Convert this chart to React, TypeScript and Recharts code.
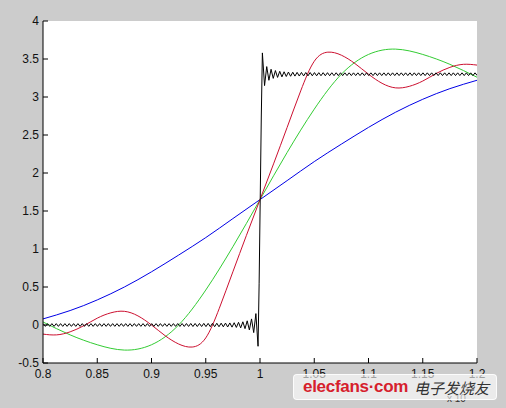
import { LineChart, Line, XAxis, YAxis } from "recharts";

// x positions of the smooth curves
const X_COARSE = [
  0.8, 0.825, 0.85, 0.875, 0.9, 0.925, 0.95, 0.975, 1.0,
  1.025, 1.05, 1.075, 1.1, 1.125, 1.15, 1.175, 1.2,
];
const X_FINE = [
  0.8, 0.8125, 0.825, 0.8375, 0.85, 0.8625, 0.875, 0.8875, 0.9, 0.9125, 0.925,
  0.9375, 0.95, 0.9625, 0.975, 0.9875, 1.0, 1.0125, 1.025, 1.0375, 1.05, 1.0625,
  1.075, 1.0875, 1.1, 1.1125, 1.125, 1.1375, 1.15, 1.1625, 1.175, 1.1875, 1.2,
];

const BLUE = [
  0.08, 0.19, 0.33, 0.5, 0.7, 0.92, 1.15, 1.4, 1.65,
  1.9, 2.15, 2.38, 2.6, 2.8, 2.97, 3.11, 3.22,
];
const GREEN = [
  0.04, -0.13, -0.26, -0.33, -0.26, 0.0, 0.46, 1.03, 1.65,
  2.27, 2.84, 3.3, 3.56, 3.63, 3.56, 3.43, 3.26,
];
const RED = [
  -0.12, -0.13, -0.09, -0.01, 0.09, 0.16, 0.18, 0.12, 0.0, -0.14, -0.25,
  -0.29, -0.17, 0.22, 0.7, 1.18, 1.65, 2.12, 2.6, 3.08, 3.47, 3.59,
  3.55, 3.44, 3.3, 3.18, 3.12, 3.14, 3.21, 3.31, 3.39, 3.43, 3.42,
];

// black curve: ringing read outward from the jump, one extreme every 0.002
const BLACK_DX = 0.002;
const BLACK_LEFT_START = 0.9982;
const BLACK_RIGHT_START = 1.0022;
const BLACK_LEFT = [
  -0.28, 0.15, -0.1, 0.08, -0.065, 0.055, -0.048, 0.042, -0.038, 0.035,
  -0.032, 0.03, -0.028, 0.027, -0.026, 0.025, -0.024, 0.024, -0.023, 0.023,
  -0.022, 0.022, -0.022, 0.021, -0.021, 0.021, -0.02, 0.02, -0.02, 0.02,
  -0.02, 0.02, -0.019, 0.019, -0.019, 0.019, -0.019, 0.019, -0.018, 0.018,
  -0.018, 0.018, -0.018, 0.018, -0.018, 0.018, -0.018, 0.018, -0.018, 0.018,
  -0.018, 0.018, -0.018, 0.018, -0.018, 0.018, -0.018, 0.018, -0.018, 0.018,
  -0.018, 0.018, -0.018, 0.018, -0.018, 0.018, -0.018, 0.018, -0.018, 0.018,
  -0.018, 0.018, -0.018, 0.018, -0.018, 0.018, -0.018, 0.018, -0.018, 0.018,
  -0.018, 0.018, -0.018, 0.018, -0.018, 0.018, -0.018, 0.018, -0.018, 0.018,
  -0.018, 0.018, -0.018, 0.018, -0.018, 0.018, -0.018, 0.018, -0.018, 0.018,
];
const BLACK_STEP_X = [0.9992, 1.0002, 1.0012];
const BLACK_STEP_Y = [0.55, 1.65, 2.75];
const BLACK_RIGHT = [
  3.58, 3.15, 3.4, 3.22, 3.365, 3.245, 3.348, 3.258, 3.338, 3.265,
  3.332, 3.27, 3.328, 3.273, 3.326, 3.275, 3.324, 3.276, 3.323, 3.277,
  3.322, 3.278, 3.322, 3.279, 3.321, 3.279, 3.32, 3.28, 3.32, 3.28,
  3.32, 3.28, 3.319, 3.281, 3.319, 3.281, 3.319, 3.281, 3.318, 3.282,
  3.318, 3.282, 3.318, 3.282, 3.318, 3.282, 3.318, 3.282, 3.318, 3.282,
  3.318, 3.282, 3.318, 3.282, 3.318, 3.282, 3.318, 3.282, 3.318, 3.282,
  3.318, 3.282, 3.318, 3.282, 3.318, 3.282, 3.318, 3.282, 3.318, 3.282,
  3.318, 3.282, 3.318, 3.282, 3.318, 3.282, 3.318, 3.282, 3.318, 3.282,
  3.318, 3.282, 3.318, 3.282, 3.318, 3.282, 3.318, 3.282, 3.318, 3.282,
  3.318, 3.282, 3.318, 3.282, 3.318, 3.282, 3.318, 3.282, 3.318, 3.282,
];

const X_TICKS = [0.8, 0.85, 0.9, 0.95, 1, 1.05, 1.1, 1.15, 1.2];
const X_TICK_LABELS = ["0.8", "0.85", "0.9", "0.95", "1", "1.05", "1.1", "1.15", "1.2"];
const Y_TICKS = [-0.5, 0, 0.5, 1, 1.5, 2, 2.5, 3, 3.5, 4];
const Y_TICK_LABELS = ["-0.5", "0", "0.5", "1", "1.5", "2", "2.5", "3", "3.5", "4"];

const FONT = "'Liberation Sans', Arial, sans-serif";
const TICK_LEN = 5;

const zip = (xs: number[], ys: number[]) => ys.map((y, i) => ({ x: xs[i], y }));

const blueData = zip(X_COARSE, BLUE);
const greenData = zip(X_COARSE, GREEN);
const redData = zip(X_FINE, RED);
const blackData = [
  ...BLACK_LEFT.map((y, i) => ({ x: BLACK_LEFT_START - i * BLACK_DX, y })).reverse(),
  ...zip(BLACK_STEP_X, BLACK_STEP_Y),
  ...BLACK_RIGHT.map((y, i) => ({ x: BLACK_RIGHT_START + i * BLACK_DX, y })),
];

const labelOf = (ticks: number[], labels: string[], v: number) => {
  const i = ticks.findIndex((t) => Math.abs(t - v) < 1e-9);
  return i >= 0 ? labels[i] : String(v);
};

// tick marks point inward, MATLAB style
function LeftTick(props: any) {
  const { x, y, payload } = props;
  const ax = x + 4;
  return (
    <g>
      <line x1={ax} x2={ax + TICK_LEN} y1={y} y2={y} stroke="#000" />
      <text x={x} y={y + 4} textAnchor="end" fontSize={12} fontFamily={FONT} fill="#111">
        {labelOf(Y_TICKS, Y_TICK_LABELS, payload.value)}
      </text>
    </g>
  );
}

function BottomTick(props: any) {
  const { x, y, payload } = props;
  const ay = y - 4;
  return (
    <g>
      <line x1={x} x2={x} y1={ay} y2={ay - TICK_LEN} stroke="#000" />
      <text x={x} y={ay + 15} textAnchor="middle" fontSize={12} fontFamily={FONT} fill="#111">
        {labelOf(X_TICKS, X_TICK_LABELS, payload.value)}
      </text>
    </g>
  );
}

function RightTick(props: any) {
  const { x, y } = props;
  return <line x1={x} x2={x - TICK_LEN} y1={y} y2={y} stroke="#000" />;
}

function TopTick(props: any) {
  const { x, y } = props;
  return <line x1={x} x2={x} y1={y} y2={y + TICK_LEN} stroke="#000" />;
}

export default function App() {
  return (
    <div
      style={{
        position: "absolute",
        left: 0,
        top: 0,
        width: 506,
        height: 408,
        background: "#cccccc",
        overflow: "hidden",
      }}
    >
      <LineChart
        width={506}
        height={408}
        margin={{ top: 21, right: 29, left: 0, bottom: 0 }}
        style={{ background: "transparent" }}
      >
        <rect x={43} y={21} width={434} height={342} fill="#ffffff" />
        <XAxis
          xAxisId="b"
          dataKey="x"
          type="number"
          domain={[0.8, 1.2]}
          ticks={X_TICKS}
          interval={0}
          allowDataOverflow
          height={45}
          tickSize={0}
          tickMargin={4}
          tickLine={false}
          axisLine={{ stroke: "#000" }}
          tick={<BottomTick />}
        />
        <XAxis
          xAxisId="t"
          orientation="top"
          dataKey="x"
          type="number"
          domain={[0.8, 1.2]}
          ticks={X_TICKS}
          interval={0}
          allowDataOverflow
          height={0}
          tickSize={0}
          tickMargin={0}
          tickLine={false}
          axisLine={{ stroke: "#000" }}
          tick={<TopTick />}
        />
        <YAxis
          yAxisId="l"
          type="number"
          domain={[-0.5, 4]}
          ticks={Y_TICKS}
          interval={0}
          allowDataOverflow
          width={43}
          tickSize={0}
          tickMargin={4}
          tickLine={false}
          axisLine={{ stroke: "#000" }}
          tick={<LeftTick />}
        />
        <YAxis
          yAxisId="r"
          orientation="right"
          type="number"
          domain={[-0.5, 4]}
          ticks={Y_TICKS}
          interval={0}
          allowDataOverflow
          width={0}
          tickSize={0}
          tickMargin={0}
          tickLine={false}
          axisLine={{ stroke: "#000" }}
          tick={<RightTick />}
        />
        <Line xAxisId="b" yAxisId="l" data={blueData} dataKey="y" type="natural" stroke="#0000e6" strokeWidth={1} dot={false} isAnimationActive={false} />
        <Line xAxisId="b" yAxisId="l" data={greenData} dataKey="y" type="natural" stroke="#33cc33" strokeWidth={1} dot={false} isAnimationActive={false} />
        <Line xAxisId="b" yAxisId="l" data={redData} dataKey="y" type="natural" stroke="#cc1030" strokeWidth={1} dot={false} isAnimationActive={false} />
        <Line xAxisId="b" yAxisId="l" data={blackData} dataKey="y" type="linear" stroke="#000000" strokeWidth={1} dot={false} isAnimationActive={false} />
      </LineChart>

      <div
        style={{
          position: "absolute",
          left: 447,
          top: 393,
          fontFamily: FONT,
          fontSize: 10,
          color: "#333",
        }}
      >
        x 10
      </div>

      <div
        style={{
          position: "absolute",
          left: 293,
          top: 374,
          width: 204,
          height: 26,
          background: "rgba(255,255,255,0.6)",
          border: "1px solid rgba(255,255,255,0.85)",
          borderRadius: 4,
          boxSizing: "border-box",
          display: "flex",
          alignItems: "center",
          paddingLeft: 9,
          whiteSpace: "nowrap",
        }}
      >
        <span
          style={{
            fontFamily: FONT,
            fontWeight: "bold",
            fontSize: 17,
            color: "#d6202c",
            letterSpacing: -0.3,
          }}
        >
          elecfans·com
        </span>
        <span
          style={{
            fontFamily: "'Noto Sans CJK SC', sans-serif",
            fontSize: 15,
            color: "#333",
            marginLeft: 6,
            fontStyle: "italic",
          }}
        >
          电子发烧友
        </span>
      </div>
    </div>
  );
}
